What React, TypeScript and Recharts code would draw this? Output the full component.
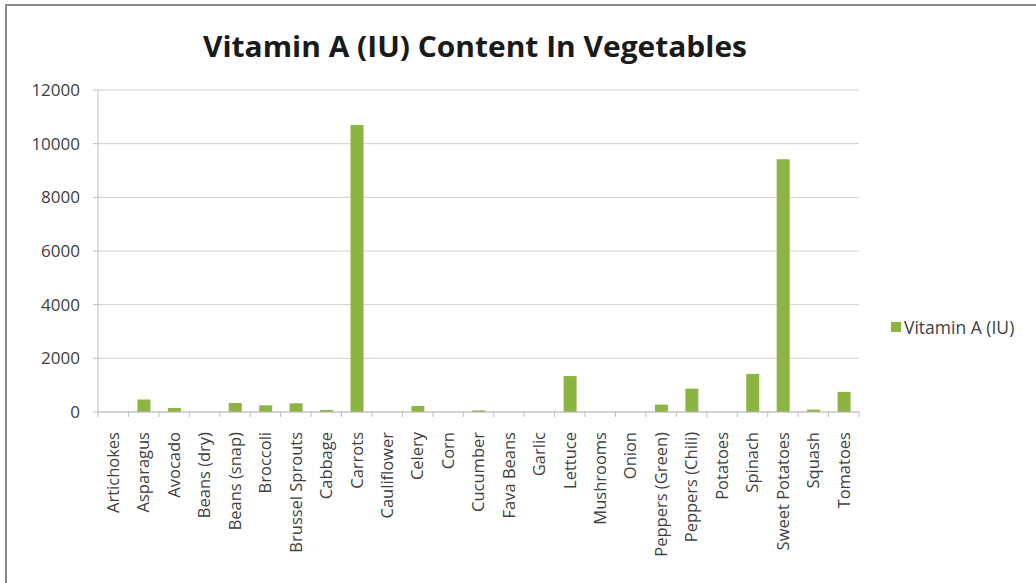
import React from 'react';
import { BarChart, Bar, XAxis, YAxis, CartesianGrid } from 'recharts';

const vegetables = [
  'Artichokes', 'Asparagus', 'Avocado', 'Beans (dry)', 'Beans (snap)', 'Broccoli',
  'Brussel Sprouts', 'Cabbage', 'Carrots', 'Cauliflower', 'Celery', 'Corn',
  'Cucumber', 'Fava Beans', 'Garlic', 'Lettuce', 'Mushrooms', 'Onion',
  'Peppers (Green)', 'Peppers (Chili)', 'Potatoes', 'Spinach', 'Sweet Potatoes',
  'Squash', 'Tomatoes',
];

const vitaminA = [
  0, 465, 150, 0, 335, 250,
  325, 75, 10700, 0, 225, 0,
  60, 0, 0, 1340, 0, 0,
  275, 870, 0, 1420, 9420,
  90, 750,
];

const yTicks = [0, 2000, 4000, 6000, 8000, 10000, 12000];

const seriesName = 'Vitamin A (IU)';
const chartTitle = 'Vitamin A (IU) Content In Vegetables';

const BAR_COLOR = '#8cb443';
const AXIS_COLOR = '#bdbdbd';
const TEXT_COLOR = '#404040';
const FONT = '"Open Sans", "Noto Sans", sans-serif';

const chartData = vegetables.map((name, i) => ({ name, value: vitaminA[i] }));

// Excel-style ticks sit between categories, labels rotated upward
const CategoryTick = (props: any) => {
  const { x, y, payload, visibleTicksCount } = props;
  const off = payload.offset ?? 15.2;
  const isLast = payload.index === (visibleTicksCount ?? vegetables.length) - 1;
  return (
    <g>
      <line x1={x - off} x2={x - off} y1={y} y2={y + 5} stroke={AXIS_COLOR} />
      {isLast && <line x1={x + off} x2={x + off} y1={y} y2={y + 5} stroke={AXIS_COLOR} />}
      <text
        x={x}
        y={y + 20}
        transform={`rotate(-90, ${x}, ${y + 20})`}
        textAnchor="end"
        dy="0.35em"
        fontSize={16.5}
        fontFamily={FONT}
        fill={TEXT_COLOR}
      >
        {payload.value}
      </text>
    </g>
  );
};

export default function App() {
  return (
    <div style={{ position: 'absolute', left: 0, top: 0, width: 1036, height: 583, overflow: 'hidden', background: '#fff', fontFamily: FONT }}>
      <div style={{ position: 'absolute', left: 5, top: 4, width: 1100, height: 700, borderLeft: '2px solid #8a8a8a', borderTop: '2px solid #8a8a8a' }} />
      <svg style={{ position: 'absolute', left: 0, top: 0 }} width={1036} height={80}>
        <text x={203} y={57} fontSize={29} fontWeight="bold" fontFamily={FONT} fill="#1a1a1a" textLength={544} lengthAdjust="spacingAndGlyphs">
          {chartTitle}
        </text>
      </svg>
      <div style={{ position: 'absolute', left: 0, top: 0 }}>
        <BarChart
          width={1036}
          height={583}
          data={chartData}
          margin={{ top: 90, right: 177, left: 0, bottom: 0 }}
          barSize={13}
        >
          <CartesianGrid vertical={false} stroke="#d0d0d0" />
          <XAxis
            dataKey="name"
            interval={0}
            height={171}
            tickLine={false}
            tickSize={0}
            tickMargin={0}
            axisLine={{ stroke: AXIS_COLOR }}
            tick={<CategoryTick />}
          />
          <YAxis
            width={98}
            domain={[0, 12000]}
            ticks={yTicks}
            interval={0}
            tickSize={5}
            tickMargin={13}
            tickLine={{ stroke: AXIS_COLOR }}
            axisLine={{ stroke: AXIS_COLOR }}
            tick={{ fontSize: 17, fill: TEXT_COLOR, fontFamily: FONT }}
          />
          <Bar dataKey="value" name={seriesName} fill={BAR_COLOR} isAnimationActive={false} />
        </BarChart>
      </div>
      <div style={{ position: 'absolute', left: 891, top: 315, display: 'flex', alignItems: 'center', fontSize: 17.5, color: TEXT_COLOR, whiteSpace: 'nowrap' }}>
        <span style={{ display: 'inline-block', width: 10, height: 10, background: BAR_COLOR, marginRight: 3 }} />
        <span>{seriesName}</span>
      </div>
    </div>
  );
}
